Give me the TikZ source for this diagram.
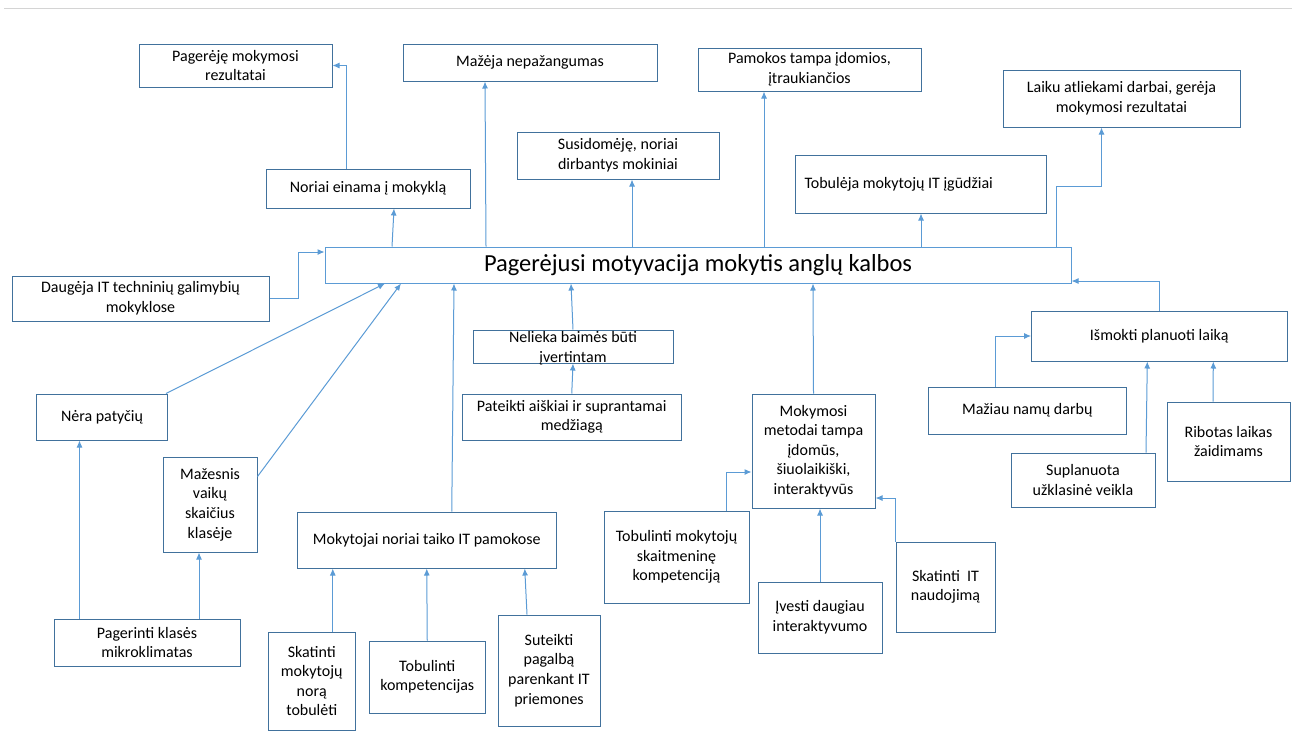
\documentclass[tikz,border=0pt]{standalone}
\usepackage{fontspec}
\setmainfont{Carlito}
\usetikzlibrary{arrows.meta}

\definecolor{boxblue}{HTML}{41719C}
\definecolor{linkblue}{HTML}{5B9BD5}
\definecolor{rulegray}{HTML}{D4D4D4}

\begin{document}
\begin{tikzpicture}[x=1pt,y=-1pt,
    card/.style={draw=boxblue,line width=1pt,fill=white,align=center,inner sep=0pt,font=\cardfontsize},
    link/.style={draw=linkblue,line width=1pt,-{Latex[length=7pt,width=6pt]}}]
    \providecommand{\cardfontsize}{\fontsize{16}{19.6}\selectfont}
    \providecommand{\mainfontsize}{\fontsize{24.5}{28}\selectfont}
    \useasboundingbox (0,0) rectangle (1292,737);
    \draw[rulegray,line width=1pt] (4,8) -- (1292,8);
    % top row
    \node[card,minimum width=193pt,minimum height=43pt] (pagereje) at (235.5,65.5) {Pagerėję mokymosi\\rezultatai};
    \node[card,minimum width=254pt,minimum height=37pt] (mazeja) at (530,62.5) {Mažėja nepažangumas};
    \node[card,minimum width=223pt,minimum height=43pt] (pamokos) at (809.5,69.5) {Pamokos tampa įdomios,\\įtraukiančios};
    \node[card,minimum width=237pt,minimum height=57pt] (laiku) at (1121.5,98.5) {Laiku atliekami darbai, gerėja\\mokymosi rezultatai};
    \node[card,minimum width=202pt,minimum height=47pt] (susidomeje) at (618,155.5) {Susidomėję, noriai\\dirbantys mokiniai};
    \node[card,minimum width=204pt,minimum height=39pt] (noriai) at (368,188.5) {Noriai einama į mokyklą};
    \node[card,align=flush left,text width=233pt,inner xsep=9pt,minimum height=58pt] (tobuleja) at (921,184) {Tobulėja mokytojų IT įgūdžiai};
    % centre
    \node[card,draw=linkblue,font=\mainfontsize,minimum width=746pt,minimum height=36pt] (motyvacija) at (698,265) {Pagerėjusi motyvacija mokytis anglų kalbos};
    \node[card,minimum width=257pt,minimum height=45pt] (daugeja) at (140.5,298.5) {Daugėja IT techninių galimybių\\mokyklose};
    \node[card,minimum width=200pt,minimum height=33pt] (nelieka) at (573,346.5) {};
    \node[align=center,inner sep=0pt,font=\cardfontsize] (nelieka text) at ([yshift=-2pt]nelieka.center) {Nelieka baimės būti\\įvertintam};
    \node[card,minimum width=218.5pt,minimum height=46pt] (pateikti) at (571.75,417) {Pateikti aiškiai ir suprantamai\\medžiagą};
    \node[card,minimum width=255.4pt,minimum height=50pt] (ismokti) at (1159.3,336) {Išmokti planuoti laiką};
    % left part
    \node[card,minimum width=131pt,minimum height=46pt] (nera) at (102,417) {Nėra patyčių};
    \node[card,minimum width=94pt,minimum height=95pt] (mazesnis) at (210,504.5) {Mažesnis\\vaikų\\skaičius\\klasėje};
    \node[card,minimum width=186pt,minimum height=47pt] (pagerinti) at (147,642.5) {Pagerinti klasės\\mikroklimatas};
    \node[card,minimum width=258.5pt,minimum height=56pt] (mokytojai) at (426.75,540) {Mokytojai noriai taiko IT pamokose};
    \node[card,minimum width=86.5pt,minimum height=98pt] (skatintinora) at (311.75,681) {Skatinti\\mokytojų\\norą\\tobulėti};
    \node[card,minimum width=115.5pt,minimum height=72pt] (tobulintikomp) at (427.25,677) {Tobulinti\\kompetencijas};
    \node[card,minimum width=102pt,minimum height=111pt] (suteikti) at (549,670.5) {Suteikti\\pagalbą\\parenkant IT\\priemones};
    % right part
    \node[card,minimum width=123pt,minimum height=114pt] (mokymosi) at (813.5,451) {Mokymosi\\metodai tampa\\įdomūs,\\šiuolaikiški,\\interaktyvūs};
    \node[card,minimum width=145pt,minimum height=92pt] (tobulintiskait) at (676.5,557) {Tobulinti mokytojų\\skaitmeninę\\kompetenciją};
    \node[card,minimum width=124pt,minimum height=71pt] (ivesti) at (820,617.5) {Įvesti daugiau\\interaktyvumo};
    \node[card,minimum width=99pt,minimum height=90pt] (skatintiit) at (945.5,587) {Skatinti~ IT\\naudojimą};
    \node[card,minimum width=198.5pt,minimum height=47pt] (maziau) at (1027.25,410.5) {Mažiau namų darbų};
    \node[card,minimum width=144pt,minimum height=54pt] (suplanuota) at (1083,480) {Suplanuota\\užklasinė veikla};
    \node[card,minimum width=123pt,minimum height=79pt] (ribotas) at (1228.5,441.5) {Ribotas laikas\\žaidimams};
    % connectors above the centre
    \draw[link] ([xshift=-22pt]noriai.north) |- (pagereje.east);
    \draw[link] ([xshift=-212pt]motyvacija.north) -- ([xshift=-45pt]mazeja.south);
    \draw[link] ([xshift=-306pt]motyvacija.north) -- ([xshift=26pt]noriai.south);
    \draw[link] ([xshift=-66pt]motyvacija.north) -- ([xshift=14pt]susidomeje.south);
    \draw[link] ([xshift=66pt]motyvacija.north) -- ([xshift=-45.5pt]pamokos.south);
    \draw[link] ([xshift=223pt]motyvacija.north) -- (tobuleja.south);
    \draw[link] ([xshift=358pt]motyvacija.north) -- ++(0,-60) -| ([xshift=-20pt]laiku.south);
    % connectors into the centre
    \draw[link] (daugeja.east) -- ++(29,0) |- ([yshift=13pt]motyvacija.west);
    \draw[link] (ismokti.north) |- ([yshift=-16pt]motyvacija.east);
    \draw[link] ([xshift=-2pt]nera.north east) -- ([xshift=-313pt]motyvacija.south);
    \draw[link] ([yshift=28pt]mazesnis.east) -- ([xshift=-297pt]motyvacija.south);
    \draw[link] ([xshift=25pt]mokytojai.north) -- ([xshift=-244pt]motyvacija.south);
    \draw[link] (nelieka.north) -- ([xshift=-127pt]motyvacija.south);
    \draw[link] (pateikti.north) -- (nelieka.south);
    \draw[link] (mokymosi.north) -- ([xshift=115pt]motyvacija.south);
    % lower connectors
    \draw[link] ([xshift=-67.5pt]pagerinti.north) -- ([xshift=-22.5pt]nera.south);
    \draw[link] ([xshift=52pt]pagerinti.north) -- ([xshift=-11pt]mazesnis.south);
    \draw[link] ([xshift=21pt]skatintinora.north) -- ([xshift=-94pt]mokytojai.south);
    \draw[link] (tobulintikomp.north) -- (mokytojai.south);
    \draw[link] ([xshift=-22pt]suteikti.north) -- ([xshift=98pt]mokytojai.south);
    \draw[link] ([xshift=49.5pt]tobulintiskait.north) |- ([yshift=-21pt]mokymosi.west);
    \draw[link] (ivesti.north) -- (ivesti.north |- mokymosi.south);
    \draw[link] (skatintiit.north west) |- ([yshift=-47pt]mokymosi.east);
    \draw[link] ([xshift=-32pt]maziau.north) |- (ismokti.west);
    \draw[link] ([xshift=63pt]suplanuota.north) -- ([xshift=-12pt]ismokti.south);
    \draw[link] ([xshift=-15.5pt]ribotas.north) -- ([xshift=54pt]ismokti.south);
\end{tikzpicture}
\end{document}
